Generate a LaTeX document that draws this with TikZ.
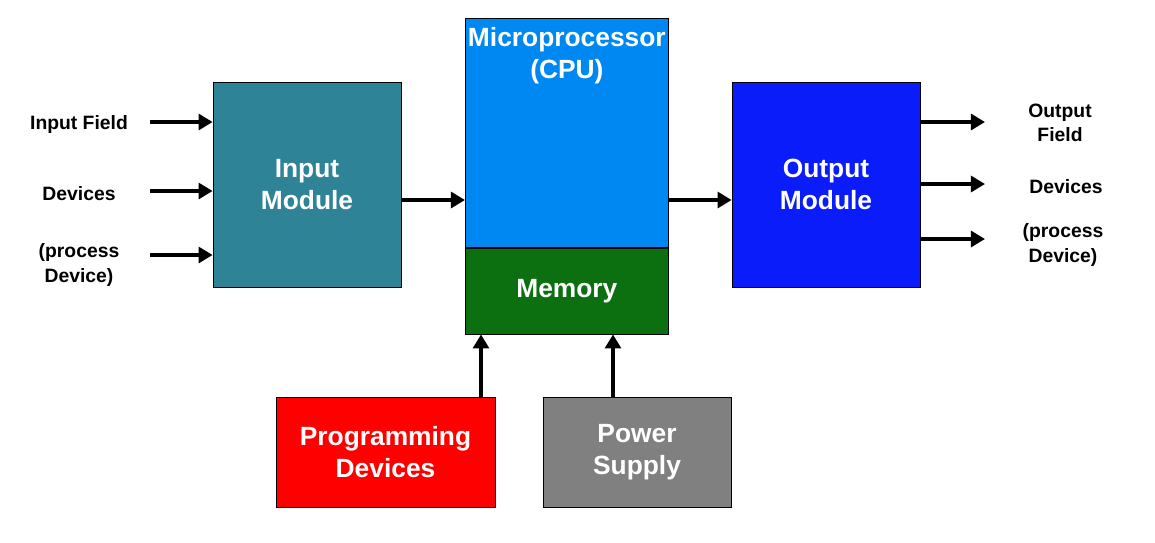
\documentclass[tikz,border=0pt]{standalone}
\usepackage{fontspec}
\setmainfont{Liberation Sans}
\usetikzlibrary{arrows.meta,positioning}
\definecolor{inblue}{HTML}{2F8397}
\definecolor{cpublue}{HTML}{0088F2}
\definecolor{memgreen}{HTML}{0C6F10}
\definecolor{outblue}{HTML}{0A1CF9}
\definecolor{pgred}{HTML}{FE0000}
\definecolor{pwgray}{HTML}{808080}
\begin{document}
\begin{tikzpicture}[
	mybox/.style={
		draw=black,
		thin,
		text=white,
		align=center,
		inner sep=0pt,
		font=\fontsize{15}{18}\selectfont\bfseries},
	mylabel/.style={
		align=center,
		font=\fontsize{11}{14}\selectfont\bfseries},
	myarrow/.style={-{Triangle[length=8pt,width=9pt]},line width=2.5pt}
	]
	\useasboundingbox (0,0) rectangle (23.1,-10.84);
	\node[mybox,fill=inblue,minimum width=3.76cm,minimum height=4.1cm] (inmod) at (6.14,-3.69) {Input\\Module};
	\node[mybox,fill=cpublue,minimum width=4.06cm,minimum height=4.58cm,anchor=north west,text depth=3.2cm] (cpu) at (9.3,-0.36) {Microprocessor\\(CPU)};
	\node[mybox,fill=memgreen,minimum width=4.06cm,minimum height=1.72cm,anchor=north] (mem) at (cpu.south) {Memory};
	\node[mybox,fill=outblue,minimum width=3.76cm,minimum height=4.1cm] (outmod) at (16.52,-3.69) {Output\\Module};
	\node[mybox,fill=pgred,minimum width=4.38cm,minimum height=2.2cm] (prog) at (7.71,-9.04) {Programming\\Devices};
	\node[mybox,fill=pwgray,minimum width=3.76cm,minimum height=2.2cm] (power) at (12.74,-9.04) {Power\\Supply};

	% input side
	\node[mylabel] (in1) at (1.58,-2.48) {Input Field};
	\node[mylabel] (in2) at (1.58,-3.88) {Devices};
	\node[mylabel] (in3) at (1.58,-5.3) {(process\\Device)};
	\foreach \y/\n in {-2.44/1,-3.82/2,-5.1/3} {
		\coordinate (ia\n) at (3.0,\y);
		\draw[myarrow] (ia\n) -- (ia\n -| inmod.west);
	}

	% output side
	\node[mylabel] (out1) at (21.2,-2.46) {Output\\Field};
	\node[mylabel] (out2) at (21.32,-3.74) {Devices};
	\node[mylabel] (out3) at (21.26,-4.9) {(process\\Device)};
	\foreach \y/\n in {-2.44/1,-3.68/2,-4.78/3} {
		\coordinate (oa\n) at (19.7,\y);
		\draw[myarrow] (oa\n -| outmod.east) -- (oa\n);
	}

	% between modules
	\draw[myarrow] (inmod.east |- 0,-4.0) -- (cpu.west |- 0,-4.0);
	\draw[myarrow] (cpu.east |- 0,-4.0) -- (outmod.west |- 0,-4.0);
	\draw[myarrow] (prog.north -| 9.62,0) -- (mem.south -| 9.62,0);
	\draw[myarrow] (power.north -| 12.26,0) -- (mem.south -| 12.26,0);
\end{tikzpicture}
\end{document}
